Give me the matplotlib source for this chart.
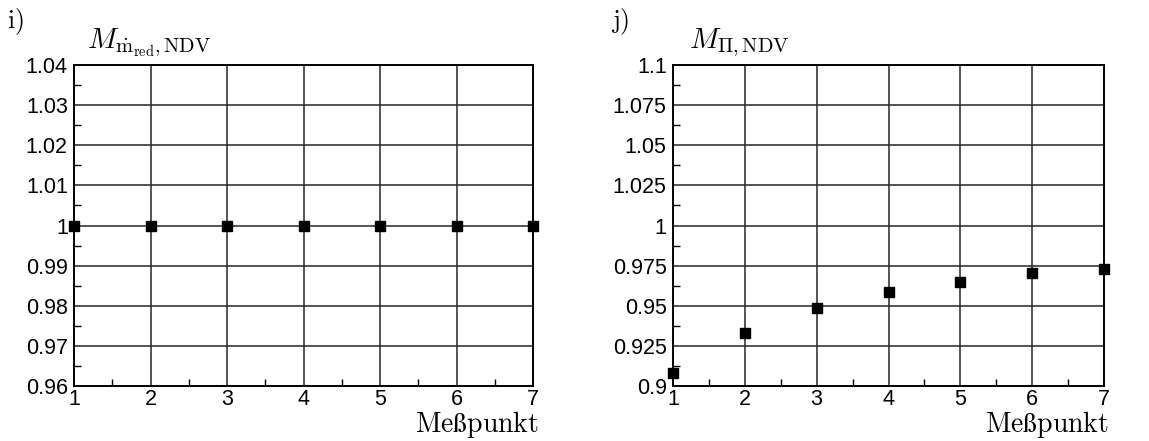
import matplotlib
matplotlib.use("Agg")
import matplotlib.pyplot as plt
from matplotlib.ticker import MultipleLocator

plt.rcParams["mathtext.fontset"] = "cm"
plt.rcParams["font.family"] = ["Liberation Sans", "DejaVu Sans"]

messpunkt = [1, 2, 3, 4, 5, 6, 7]
m_mred_ndv = [1.0, 1.0, 1.0, 1.0, 1.0, 1.0, 1.0]
m_pi_ndv = [0.9083, 0.9333, 0.9489, 0.9583, 0.9646, 0.9702, 0.9727]

left_yticks = [0.96, 0.97, 0.98, 0.99, 1.0, 1.01, 1.02, 1.03, 1.04]
left_ylabels = ["0.96", "0.97", "0.98", "0.99", "1", "1.01", "1.02", "1.03", "1.04"]
right_yticks = [0.9, 0.925, 0.95, 0.975, 1.0, 1.025, 1.05, 1.075, 1.1]
right_ylabels = ["0.9", "0.925", "0.95", "0.975", "1", "1.025", "1.05", "1.075", "1.1"]

W, H = 1149, 441
fig = plt.figure(figsize=(W / 100, H / 100), dpi=100)


def px_axes(x0, x1, ytop, ybot):
    return fig.add_axes([x0 / W, (H - ybot) / H, (x1 - x0) / W, (ybot - ytop) / H])


def style(ax, yticks, ylabels, ylim, ystep_minor):
    ax.set_xlim(1, 7)
    ax.set_ylim(*ylim)
    ax.set_xticks(messpunkt)
    ax.set_xticklabels([str(v) for v in messpunkt])
    ax.set_yticks(yticks)
    ax.set_yticklabels(ylabels)
    ax.xaxis.set_minor_locator(MultipleLocator(0.5))
    ax.yaxis.set_minor_locator(MultipleLocator(ystep_minor))
    ax.grid(True, which="major", color="#262626", linewidth=1.1)
    ax.tick_params(which="both", direction="in", top=False, right=False,
                   labelsize=15.5, colors="black")
    ax.tick_params(which="major", length=0)
    ax.tick_params(which="minor", length=5, width=1.0)
    ax.tick_params(axis="y", which="major", pad=4.5)
    ax.tick_params(axis="x", which="major", pad=2)
    for s in ax.spines.values():
        s.set_linewidth(1.4)
        s.set_color("black")
    ax.set_axisbelow(True)


ax1 = px_axes(74, 533, 65, 386)
style(ax1, left_yticks, left_ylabels, (0.96, 1.04), 0.005)
ax1.plot(messpunkt, m_mred_ndv, linestyle="none", marker="s", markersize=7,
         color="black", clip_on=False, zorder=5)

ax2 = px_axes(673, 1104, 65, 386)
style(ax2, right_yticks, right_ylabels, (0.9, 1.1), 0.0125)
ax2.plot(messpunkt, m_pi_ndv, linestyle="none", marker="s", markersize=7,
         color="black", clip_on=False, zorder=5)

# panel letters, quantity labels and axis captions
fig.text(7 / W, 1 - 28 / H, r"$\mathrm{i)}$", fontsize=18.5, ha="left", va="baseline")
fig.text(611 / W, 1 - 28 / H, r"$\mathrm{j)}$", fontsize=18.5, ha="left", va="baseline")
fig.text(87 / W, 1 - 48 / H, r"$M_{\dot{\mathrm{m}}_{\mathrm{red}},\mathrm{NDV}}$",
         fontsize=21, ha="left", va="baseline")
fig.text(689 / W, 1 - 48 / H, r"$M_{\Pi,\mathrm{NDV}}$",
         fontsize=21, ha="left", va="baseline")
fig.text(539 / W, 1 - 432 / H, r"$\mathrm{Me\ss punkt}$", fontsize=20,
         ha="right", va="baseline")
fig.text(1109 / W, 1 - 432 / H, r"$\mathrm{Me\ss punkt}$", fontsize=20,
         ha="right", va="baseline")

fig.savefig("out.png", dpi=100)
